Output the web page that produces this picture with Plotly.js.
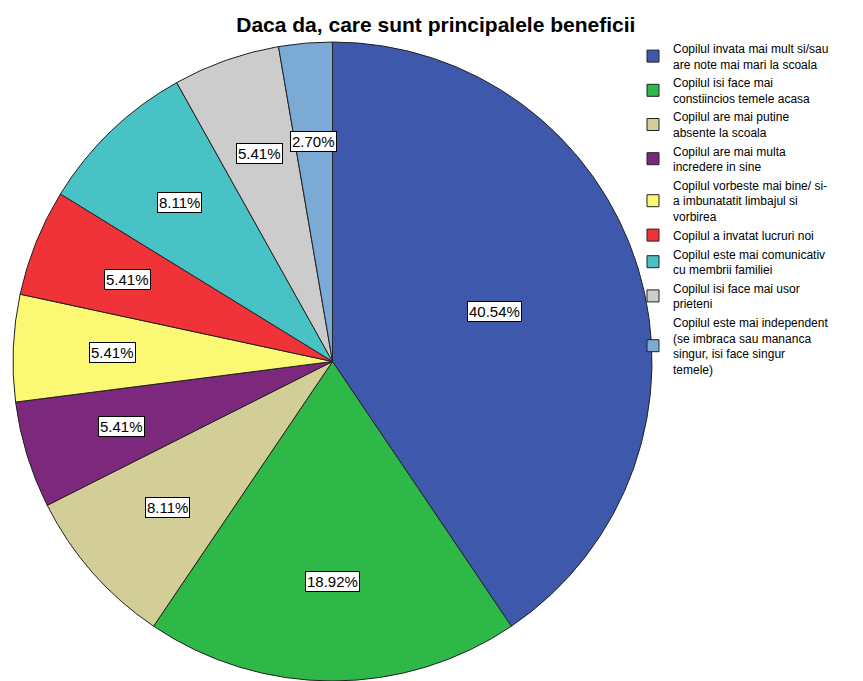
<!DOCTYPE html>
<html>
<head>
<meta charset="utf-8">
<script src="https://cdn.plot.ly/plotly-3.0.1.min.js"></script>
<style>html,body{margin:0;padding:0;background:#fff;}#chart{width:863px;height:681px;}</style>
</head>
<body>
<div id="chart"></div>
<script>
const chartTitle = "Daca da, care sunt principalele beneficii";
const categories = [
  "Copilul invata mai mult si/sau<br>are note mai mari la scoala",
  "Copilul isi face mai<br>constiincios temele acasa",
  "Copilul are mai putine<br>absente la scoala",
  "Copilul are mai multa<br>incredere in sine",
  "Copilul vorbeste mai bine/ si-<br>a imbunatatit limbajul si<br>vorbirea",
  "Copilul a invatat lucruri noi",
  "Copilul este mai comunicativ<br>cu membrii familiei",
  "Copilul isi face mai usor<br>prieteni",
  "Copilul este mai independent<br>(se imbraca sau mananca<br>singur, isi face singur<br>temele)"
];
const counts = [15, 7, 3, 2, 2, 2, 3, 2, 1];
const colors = ["#3E58AC", "#2EB848", "#D3CE97", "#7C287D", "#FBF873", "#EF3338", "#48C2C5", "#CCCCCC", "#7BAAD5"];

const W = 863, H = 681;
// pie domain in pixels
const dom = {x0: 13, x1: 652, yTop: 42, yBot: 681};
const cx = (dom.x0 + dom.x1) / 2, cy = (dom.yTop + dom.yBot) / 2;
const R = Math.min(dom.x1 - dom.x0, dom.yBot - dom.yTop) / 2;

const total = counts.reduce((a, b) => a + b, 0);
const annotations = [];
let cum = 0;
counts.forEach((c, i) => {
  const frac = c / total;
  const mid = (cum + frac / 2) * 2 * Math.PI;
  cum += frac;
  const f = frac > 0.3 ? 0.53 : 0.69;
  const px = cx + R * f * Math.sin(mid);
  const py = cy - R * f * Math.cos(mid);
  annotations.push({
    x: px / W, y: 1 - py / H, xref: 'paper', yref: 'paper',
    text: (frac * 100).toFixed(2) + '%', showarrow: false,
    bgcolor: '#ffffff', bordercolor: '#000000', borderwidth: 1, borderpad: 1,
    font: {family: 'Liberation Sans, Arial, sans-serif', size: 15, color: '#000'},
    xanchor: 'center', yanchor: 'middle'
  });
});

const trace = {
  type: 'pie',
  labels: categories,
  values: counts,
  sort: false,
  direction: 'clockwise',
  rotation: 0,
  textinfo: 'none',
  hoverinfo: 'none',
  marker: {colors: colors, line: {color: '#222222', width: 1}},
  domain: {x: [dom.x0 / W, dom.x1 / W], y: [1 - dom.yBot / H, 1 - dom.yTop / H]}
};

const layout = {
  width: W, height: H,
  margin: {l: 0, r: 0, t: 0, b: 0},
  paper_bgcolor: '#fff',
  showlegend: true,
  title: {text: '<b>' + chartTitle + '</b>', x: 0.505, xanchor: 'center', y: 1 - 25 / H, yanchor: 'middle',
          font: {family: 'Liberation Sans, Arial, sans-serif', size: 21, color: '#000'}},
  legend: {x: 633 / W, y: 1 - 34 / H, xanchor: 'left', yanchor: 'top',
           font: {family: 'Liberation Sans, Arial, sans-serif', size: 12, color: '#000'},
           bgcolor: 'rgba(0,0,0,0)', tracegroupgap: 0, itemgap: 3, valign: 'middle'},
  annotations: annotations
};

Plotly.newPlot('chart', [trace], layout, {displayModeBar: false, staticPlot: true});
</script>
</body>
</html>
